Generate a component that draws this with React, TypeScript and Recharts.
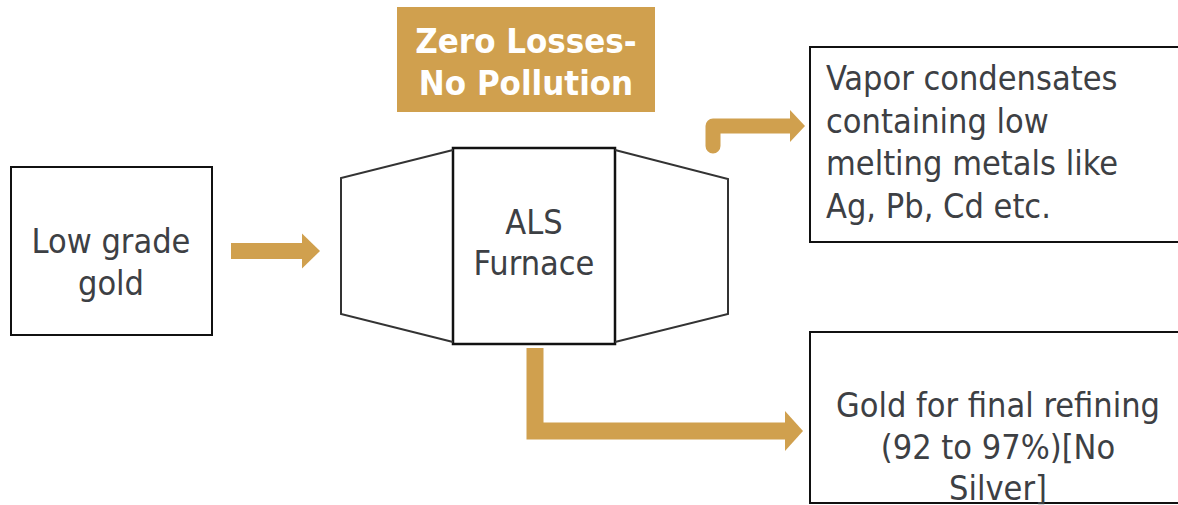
import { ComposedChart, XAxis, YAxis, Line, Scatter, ReferenceArea } from "recharts";

const W = 1178;
const H = 505;

const GOLD = "#D0A04E";
const INK = "#3d4044";
const FONT = "'DejaVu Sans Condensed', 'DejaVu Sans', sans-serif";

// frames of the flow sheet, in picture units (y grows downward)
const boxes = [
  { id: "headline", x1: 397, x2: 655, y1: 7, y2: 112 },
  { id: "input", x1: 11, x2: 212, y1: 167, y2: 335 },
  { id: "furnace", x1: 453, x2: 615, y1: 148, y2: 344 },
  { id: "vapor", x1: 810, x2: 1200, y1: 47, y2: 242 },
  { id: "product", x1: 810, x2: 1200, y1: 332, y2: 503 },
];

// furnace end shells
const leftShell = [
  { x: 453, y: 150 },
  { x: 341, y: 178 },
  { x: 341, y: 314 },
  { x: 453, y: 342 },
];
const rightShell = [
  { x: 615, y: 150 },
  { x: 728, y: 179 },
  { x: 728, y: 314 },
  { x: 615, y: 342 },
];

// arrow shafts
const feedShaft = [
  { x: 231, y: 251 },
  { x: 304, y: 251 },
];
const vaporShaft = [
  { x: 713, y: 146 },
  { x: 713, y: 126 },
  { x: 790, y: 126 },
];
const productShaft = [
  { x: 535, y: 348 },
  { x: 535, y: 431 },
  { x: 787, y: 431 },
];

// arrow tips
const feedTip = [{ x: 320, y: 251 }];
const vaporTip = [{ x: 805, y: 126 }];
const productTip = [{ x: 803, y: 431 }];

// texts
const headlineText = ["Zero Losses-", "No Pollution"];
const inputText = ["Low grade", "gold"];
const furnaceText = ["ALS", "Furnace"];
const vaporText = ["Vapor condensates", "containing low", "melting metals like", "Ag, Pb, Cd etc."];
const productText = ["Gold for final refining", "(92 to 97%)[No", "Silver]"];

// first baseline of each text block
const headlineAt = [{ x: 526, y: 53 }];
const inputAt = [{ x: 111, y: 253 }];
const furnaceAt = [{ x: 534, y: 234 }];
const vaporAt = [{ x: 826, y: 90 }];
const productAt = [{ x: 998, y: 417 }];

const boxStyle: Record<string, { fill: string; stroke: string; strokeWidth: number }> = {
  headline: { fill: GOLD, stroke: "none", strokeWidth: 0 },
  input: { fill: "#fff", stroke: "#111", strokeWidth: 2 },
  furnace: { fill: "#fff", stroke: "#111", strokeWidth: 2.5 },
  vapor: { fill: "#fff", stroke: "#111", strokeWidth: 2 },
  product: { fill: "#fff", stroke: "#111", strokeWidth: 2 },
};

const head = (len: number, half: number) => (p: any) => {
  const { cx, cy } = p;
  return (
    <polygon
      points={`${cx},${cy} ${cx - len},${cy - half} ${cx - len},${cy + half}`}
      fill={GOLD}
    />
  );
};

const textBlock =
  (lines: string[], opts: { anchor: "start" | "middle"; size: number; gap: number; color: string; bold?: boolean }) =>
  (p: any) => {
    const { cx, cy } = p;
    return (
      <text
        x={cx}
        y={cy}
        textAnchor={opts.anchor}
        fontFamily={FONT}
        fontSize={opts.size}
        fontWeight={opts.bold ? 700 : 400}
        fill={opts.color}
      >
        {lines.map((l, i) => (
          <tspan key={i} x={cx} dy={i === 0 ? 0 : opts.gap}>
            {l}
          </tspan>
        ))}
      </text>
    );
  };

export default function App() {
  return (
    <div style={{ width: W, height: H, background: "#fff" }}>
      <style>{"body{margin:0}"}</style>
      <ComposedChart width={W} height={H} margin={{ top: 0, right: 0, bottom: 0, left: 0 }}>
        <XAxis type="number" dataKey="x" domain={[0, W]} hide allowDataOverflow />
        <YAxis type="number" dataKey="y" domain={[0, H]} reversed hide allowDataOverflow />

        {boxes.map((b) => (
          <ReferenceArea
            key={b.id}
            x1={b.x1}
            x2={b.x2}
            y1={b.y1}
            y2={b.y2}
            ifOverflow="hidden"
            fillOpacity={1}
            {...boxStyle[b.id]}
          />
        ))}

        <Line data={leftShell} dataKey="y" stroke="#333" strokeWidth={2} dot={false} isAnimationActive={false} />
        <Line data={rightShell} dataKey="y" stroke="#333" strokeWidth={2} dot={false} isAnimationActive={false} />

        <Line data={feedShaft} dataKey="y" stroke={GOLD} strokeWidth={16} dot={false} strokeLinecap="butt" isAnimationActive={false} />
        <Line
          data={vaporShaft}
          dataKey="y"
          stroke={GOLD}
          strokeWidth={15}
          dot={false}
          strokeLinecap="round"
          strokeLinejoin="round"
          isAnimationActive={false}
        />
        <Line
          data={productShaft}
          dataKey="y"
          stroke={GOLD}
          strokeWidth={17}
          dot={false}
          strokeLinecap="butt"
          strokeLinejoin="miter"
          isAnimationActive={false}
        />

        <Scatter data={feedTip} shape={head(18, 17.5)} isAnimationActive={false} />
        <Scatter data={vaporTip} shape={head(15, 16)} isAnimationActive={false} />
        <Scatter data={productTip} shape={head(18, 20)} isAnimationActive={false} />

        <Scatter
          data={headlineAt}
          shape={textBlock(headlineText, { anchor: "middle", size: 34.5, gap: 42, color: "#fff", bold: true })}
          isAnimationActive={false}
        />
        <Scatter
          data={inputAt}
          shape={textBlock(inputText, { anchor: "middle", size: 34, gap: 42, color: INK })}
          isAnimationActive={false}
        />
        <Scatter
          data={furnaceAt}
          shape={textBlock(furnaceText, { anchor: "middle", size: 34, gap: 41, color: INK })}
          isAnimationActive={false}
        />
        <Scatter
          data={vaporAt}
          shape={textBlock(vaporText, { anchor: "start", size: 34, gap: 42.7, color: INK })}
          isAnimationActive={false}
        />
        <Scatter
          data={productAt}
          shape={textBlock(productText, { anchor: "middle", size: 34, gap: 41.5, color: INK })}
          isAnimationActive={false}
        />
      </ComposedChart>
    </div>
  );
}
